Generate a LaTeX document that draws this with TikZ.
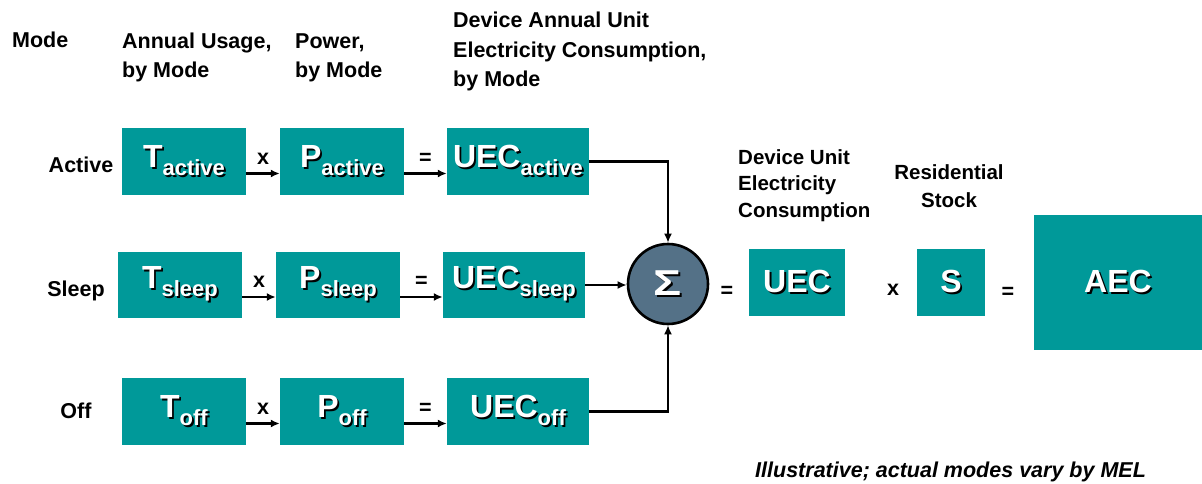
\documentclass[tikz,border=0pt]{standalone}
\usepackage{fontspec}
\setmainfont{Liberation Sans}
\usetikzlibrary{arrows.meta}
\definecolor{teal1}{RGB}{0,153,153}
\definecolor{slate}{RGB}{84,113,135}
\newcommand{\shd}[1]{\leavevmode\rlap{\hspace{1.8pt}\raisebox{-1.8pt}{\textcolor{black}{#1}}}\textcolor{white}{#1}}
\newcommand{\bigf}{\fontsize{32}{32}\selectfont\bfseries}
\newcommand{\subf}{\fontsize{22}{22}\selectfont\bfseries}
\newcommand{\vv}[2]{\shd{\bigf #1\raisebox{-8pt}{\subf #2}}}
\begin{document}
\begin{tikzpicture}[x=1pt,y=-1pt,
  box/.style={fill=teal1,draw=none,inner sep=0,anchor=center},
  hdr/.style={font=\fontsize{21.5}{29.5}\selectfont\bfseries,inner sep=0,align=left,anchor=base west},
  lbl/.style={font=\fontsize{21.5}{21.5}\selectfont\bfseries,inner sep=0,anchor=base},
  op/.style={font=\fontsize{21.5}{21.5}\selectfont\bfseries,inner sep=0},
  conn/.style={line width=2.2pt,-{Latex[length=9pt,width=8pt]}}]
\useasboundingbox (0,0) rectangle (1202,484);
% headers (base anchor = baseline of last line)
\node[hdr] (hmode) at (12,48) {Mode};
\node[hdr] (husage) at (122,78) {Annual Usage,\\by Mode};
\node[hdr] (hpower) at (295,78) {Power,\\by Mode};
\node[hdr] (hdevm) at (453,87) {Device Annual Unit\\Electricity Consumption,\\by Mode};
\node[hdr,font=\fontsize{20.5}{26.5}\selectfont\bfseries] (hdevu) at (738,217) {Device Unit\\Electricity\\Consumption};
\node[hdr,align=center,anchor=base,font=\fontsize{20.5}{28}\selectfont\bfseries] (hstock) at (949,207) {Residential\\Stock};
% row labels
\node[lbl] (lact) at (81,172) {Active};
\node[lbl] (lslp) at (76,296) {Sleep};
\node[lbl] (loff) at (76,418) {Off};
% boxes active
\node[box,minimum width=124,minimum height=67] (ta) at (184,161.5) {\vv{T}{active}};
\node[box,minimum width=124,minimum height=67] (pa) at (342,161.5) {\vv{P}{active}};
\node[box,minimum width=142,minimum height=67] (ua) at (518,161.5) {\vv{UEC}{active}};
% sleep
\node[box,minimum width=124,minimum height=66] (ts) at (180,285) {\vv{T}{sleep}};
\node[box,minimum width=124,minimum height=66] (ps) at (338,285) {\vv{P}{sleep}};
\node[box,minimum width=142,minimum height=66] (us) at (514,285) {\vv{UEC}{sleep}};
% off
\node[box,minimum width=124,minimum height=67] (to) at (184,411.5) {\vv{T}{off}};
\node[box,minimum width=124,minimum height=67] (po) at (342,411.5) {\vv{P}{off}};
\node[box,minimum width=142,minimum height=67] (uo) at (518,411.5) {\vv{UEC}{off}};
% sum circle
\node[circle,fill=slate,draw=black,line width=2.6pt,minimum size=80,inner sep=0] (sum) at (668,284) {\shd{\fontsize{36}{36}\selectfont\bfseries\scalebox{1.3}[1]{Σ}}};
% right part
\node[box,minimum width=96,minimum height=67] (uec) at (797,282.5) {\shd{\bigf UEC}};
\node[box,minimum width=68,minimum height=67] (s) at (951,282.5) {\shd{\bigf S}};
\node[box,minimum width=168,minimum height=135] (aec) at (1118,282.5) {\shd{\bigf AEC}};
\node[op] (eq1) at (727,292) {=};
\node[op] (x1) at (893,290) {x};
\node[op] (eq2) at (1008,293) {=};
% connectors
\foreach \a/\b/\o in {ta/pa/x,pa/ua/=,ts/ps/x,ps/us/=,to/po/x,po/uo/=}{
  \draw[conn] ([yshift=-12pt]\a.east) -- node[op,above,yshift=8pt] {\o} ([yshift=-12pt]\b.west);
}
\draw[conn] (ua.east) -| (sum.north);
\draw[conn] (us.east) -- (us.east -| sum.west);
\draw[conn] (uo.east) -| (sum.south);
% note
\node[inner sep=0,anchor=base west,font=\fontsize{21.5}{21.5}\selectfont\bfseries\itshape] (note) at (755,477) {Illustrative; actual modes vary by MEL};
\end{tikzpicture}
\end{document}
